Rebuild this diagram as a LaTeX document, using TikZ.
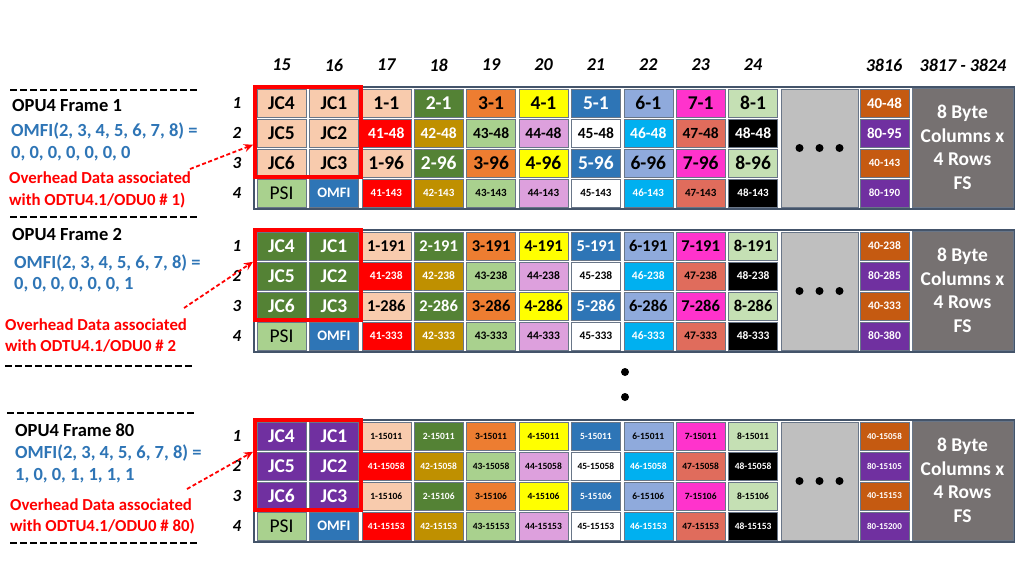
\documentclass[tikz,border=0pt]{standalone}
\usepackage{fontspec}
\setmainfont{Carlito}
\usetikzlibrary{arrows.meta}

\definecolor{slate}{HTML}{44546A}
\definecolor{cpeach}{HTML}{F8CBAD}
\definecolor{cred}{HTML}{FF0000}
\definecolor{cgreen}{HTML}{548235}
\definecolor{cgold}{HTML}{BF9000}
\definecolor{corange}{HTML}{ED7D31}
\definecolor{cltgreen}{HTML}{A9D18E}
\definecolor{cyellow}{HTML}{FFFF00}
\definecolor{clavender}{HTML}{DDA0DD}
\definecolor{cblue}{HTML}{2E75B6}
\definecolor{cwhite}{HTML}{FFFFFF}
\definecolor{cltblue}{HTML}{8FAADC}
\definecolor{ccyan}{HTML}{00B0F0}
\definecolor{cmagenta}{HTML}{FF33CC}
\definecolor{csalmon}{HTML}{E06C5C}
\definecolor{cpale}{HTML}{C5E0B4}
\definecolor{cblack}{HTML}{000000}
\definecolor{cdkorange}{HTML}{C55A11}
\definecolor{cpurple}{HTML}{7030A0}
\definecolor{panel}{HTML}{BFBFBF}
\definecolor{fsgray}{HTML}{767171}
\definecolor{omfiblue}{HTML}{2E75B6}

\newcommand{\fsize}[1]{\fontsize{#1}{#1}\selectfont}

\begin{document}
\begin{tikzpicture}[x=1pt, y=-1pt,
    cell/.style={rectangle, draw=slate!80, line width=0.6pt, minimum width=49pt, minimum height=28pt, inner sep=0pt, font=\bfseries},
    colnum/.style={font=\bfseries\itshape\fsize{18}},
    rownum/.style={font=\bfseries\itshape\fsize{17}},
    title/.style={anchor=base west, inner sep=0pt, font=\bfseries\fsize{18.5}},
    omfi/.style={anchor=base west, inner sep=0pt, text=omfiblue, font=\bfseries\fsize{18.5}},
    note/.style={anchor=base west, inner sep=0pt, text=red, font=\bfseries\fsize{16.8}},
    sep/.style={line width=2.5pt, dash pattern=on 7pt off 3pt},
    ohbox/.style={draw=red, line width=4pt, minimum width=106pt, minimum height=90pt, inner sep=0pt},
    oharrow/.style={red, line width=1.8pt, dash pattern=on 4pt off 2.5pt, -{Stealth[length=9pt, width=8pt]}}]

    \useasboundingbox[fill=white] (0,0) rectangle (1024,576);

    % Column numbers
    \foreach \col [count=\k from 0] in {15,...,24}
        \node[colnum] (h\col) at ({281.5+52.4*\k}, 65) {\col};
    \node[colnum] (h3816) at (884, 65) {3816};
    \node[colnum] (hfs) at (963, 65) {3817 - 3824};

    % Frame blocks: outline, overhead columns, gap, FS
    \foreach \fr/\yy/\jc/\jt in {1/89/cpeach/black, 2/232/cgreen/white, 80/422/cpurple/white} {
        \draw[slate, line width=1.2pt, fill=white] (254,{\yy-2}) rectangle (1014,{\yy+120});
        \node[cell, fill=\jc, text=\jt, font=\bfseries\fsize{19.5}] (jc4-\fr) at (281.5,{\yy+14}) {JC4};
        \node[cell, fill=\jc, text=\jt, font=\bfseries\fsize{19.5}] (jc1-\fr) at (333.9,{\yy+14}) {JC1};
        \node[cell, fill=\jc, text=\jt, font=\bfseries\fsize{19.5}] (jc5-\fr) at (281.5,{\yy+44}) {JC5};
        \node[cell, fill=\jc, text=\jt, font=\bfseries\fsize{19.5}] (jc2-\fr) at (333.9,{\yy+44}) {JC2};
        \node[cell, fill=\jc, text=\jt, font=\bfseries\fsize{19.5}] (jc6-\fr) at (281.5,{\yy+74}) {JC6};
        \node[cell, fill=\jc, text=\jt, font=\bfseries\fsize{19.5}] (jc3-\fr) at (333.9,{\yy+74}) {JC3};
        \node[cell, fill=cltgreen, font=\fsize{19.5}] (psi-\fr) at (281.5,{\yy+104}) {PSI};
        \node[cell, fill=cblue, text=white, font=\bfseries\fsize{14.5}] (omfi-\fr) at (333.9,{\yy+104}) {OMFI};
        % the columns that are left out
        \node[cell, fill=panel, minimum width=77pt, minimum height=118pt] (gap-\fr) at (819.5,{\yy+59}) {};
        \foreach \dx in {-20,0,20}
            \fill ([xshift=\dx pt]gap-\fr.center) circle (4pt);
        % fixed stuff
        \node[cell, fill=fsgray, text=white, align=center, minimum width=101pt, minimum height=119pt,
              font=\bfseries\fontsize{19.5}{23.5}\selectfont] (fs-\fr) at (962.5,{\yy+58.5}) {8 Byte\\Columns x\\4 Rows\\FS};
        \foreach \r in {1,...,4}
            \node[rownum] (r\r-\fr) at (237,{\yy+14+30*(\r-1)}) {\r};
    }

    % Payload bytes
    \foreach \fr/\yy/\rw/\sfx/\fsz/\tsx/\tsz in {
        1/89/1/1/19.5/48/15, 1/89/2/48/15.5/95/15, 1/89/3/96/19.5/143/11, 1/89/4/143/11/190/11,
        2/232/1/191/16.5/238/11.5, 2/232/2/238/11.5/285/11.5, 2/232/3/286/16.5/333/11.5, 2/232/4/333/11.5/380/11.5,
        80/422/1/15011/9.5/15058/9, 80/422/2/15058/9.5/15105/9, 80/422/3/15106/9.5/15153/9, 80/422/4/15153/9.5/15200/9} {
        \pgfmathsetmacro\yc{\yy+14+30*(\rw-1)}
        \foreach \col/\ca/\ta/\cb/\tb [count=\k from 0] in {17/cpeach/black/cred/white, 18/cgreen/white/cgold/white,
                19/corange/black/cltgreen/black, 20/cyellow/black/clavender/black, 21/cblue/white/cwhite/black,
                22/cltblue/black/ccyan/white, 23/cmagenta/black/csalmon/black, 24/cpale/black/cblack/white} {
            \ifodd\rw \def\cf{\ca}\def\ct{\ta}\else \def\cf{\cb}\def\ct{\tb}\fi
            \pgfmathtruncatemacro\pre{\k+1+40*(1-mod(\rw,2))}
            \node[cell, fill=\cf, text=\ct, font=\bfseries\fsize{\fsz}] (b\fr-\rw-\col) at ({386.3+52.4*\k},\yc) {\pre-\sfx};
        }
        \ifodd\rw \def\cf{cdkorange}\else \def\cf{cpurple}\fi
        \pgfmathtruncatemacro\tpre{80-40*mod(\rw,2)}
        \node[cell, fill=\cf, text=white, font=\bfseries\fsize{\tsz}] (b\fr-\rw-3816) at (884.5,\yc) {\tpre-\tsx};
    }

    % Frame 1
    \draw[sep] (10,90) -- (200,90);
    \node[title] (t1) at (12,111) {OPU4 Frame 1};
    \node[omfi] (m1) at (11,136) {OMFI(2, 3, 4, 5, 6, 7, 8) =};
    \node[omfi] (v1) at (11,158) {0, 0, 0, 0, 0, 0, 0};
    \node[note] (n1) at (9,183) {Overhead Data associated};
    \node[note] (w1) at (9,205) {with ODTU4.1/ODU0 \# 1)};
    \draw[sep] (10,217) -- (198,217);
    \node[ohbox] (ohd-1) at (308,{89+42.75}) {};
    \coordinate (a1) at (190,169);
    \draw[oharrow] (a1) -- ([yshift=-13pt]ohd-1.west);

    % Frame 2
    \node[title] (t2) at (12,240) {OPU4 Frame 2};
    \node[omfi] (m2) at (14,268) {OMFI(2, 3, 4, 5, 6, 7, 8) =};
    \node[omfi] (v2) at (14,289) {0, 0, 0, 0, 0, 0, 1};
    \node[note] (n2) at (5,330) {Overhead Data associated};
    \node[note] (w2) at (5,351) {with ODTU4.1/ODU0 \# 2};
    \draw[sep] (5,366) -- (193,366);
    \node[ohbox] (ohd-2) at (308,{232+42.75}) {};
    \coordinate (a2) at (184,308);
    \draw[oharrow] (a2) -- ([yshift=13pt]ohd-2.west);

    % frames in between
    \fill (625,372) circle (4pt);
    \fill (625,397) circle (4pt);

    % Frame 80
    \draw[sep] (7,413) -- (195,413);
    \node[title] (t80) at (15,436) {OPU4 Frame 80};
    \node[omfi] (m80) at (15,458) {OMFI(2, 3, 4, 5, 6, 7, 8) =};
    \node[omfi] (v80) at (15,480) {1, 0, 0, 1, 1, 1, 1};
    \node[note] (n80) at (10,510) {Overhead Data associated};
    \node[note] (w80) at (10,531) {with ODTU4.1/ODU0 \# 80)};
    \draw[sep] (10,543) -- (199,543);
    \node[ohbox] (ohd-80) at (308,{422+42.75}) {};
    \coordinate (a80) at (187,489);
    \draw[oharrow] (a80) -- ([yshift=13pt]ohd-80.west);
\end{tikzpicture}
\end{document}
